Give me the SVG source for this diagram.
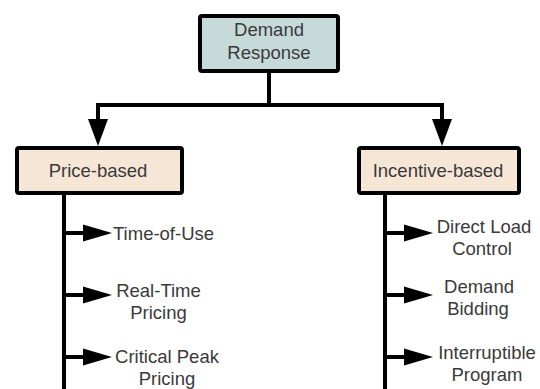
<svg xmlns="http://www.w3.org/2000/svg" width="540" height="389" viewBox="0 0 540 389">
<style>
.box{stroke:#000;stroke-width:4}
.top{fill:#c7dada}
.cat{fill:#f6e6d6}
.t{font-family:"Liberation Sans",Arial,sans-serif;font-size:18.5px;fill:#3a3a3a}
.c{text-anchor:middle}
.ln{stroke:#000;stroke-width:4;fill:none}
.hd{fill:#000}
</style>
<defs>
<polygon id="down" points="-10,-27 10,-27 0,0"/>
<polygon id="right" points="-29,-8.5 -29,8.5 0,0"/>
</defs>
<rect width="540" height="389" fill="#fff"/>
<g id="connectors">
<path class="ln" d="M269,71 V105 M98,105 H442 M98,103 V125 M442,103 V125"/>
<use href="#down" x="98" y="146" class="hd"/>
<use href="#down" x="442" y="146" class="hd"/>
<path class="ln" d="M64,193 V389 M385,193 V389"/>
<path class="ln" d="M64,233 H88 M64,295 H88 M64,357 H88 M385,233 H409 M385,295 H409 M385,357 H409"/>
<use href="#right" x="112" y="233" class="hd"/>
<use href="#right" x="112" y="295" class="hd"/>
<use href="#right" x="112" y="357" class="hd"/>
<use href="#right" x="433" y="233" class="hd"/>
<use href="#right" x="433" y="295" class="hd"/>
<use href="#right" x="433" y="357" class="hd"/>
</g>
<g id="demand-response">
<rect class="box top" x="200" y="16" width="138" height="55" rx="2"/>
<text class="t c" x="269" y="36">Demand</text>
<text class="t c" x="269" y="59">Response</text>
</g>
<g id="price-based">
<rect class="box cat" x="17" y="148" width="165" height="45" rx="2"/>
<text class="t c" x="98" y="177">Price-based</text>
</g>
<g id="incentive-based">
<rect class="box cat" x="359" y="148" width="160" height="45" rx="2"/>
<text class="t c" x="438" y="177">Incentive-based</text>
</g>
<g id="time-of-use">
<text class="t" x="113" y="239.5">Time-of-Use</text>
</g>
<g id="real-time-pricing">
<text class="t c" x="158.5" y="296.5">Real-Time</text>
<text class="t c" x="158.5" y="318.5">Pricing</text>
</g>
<g id="critical-peak-pricing">
<text class="t c" x="167" y="363">Critical Peak</text>
<text class="t c" x="167" y="385">Pricing</text>
</g>
<g id="direct-load-control">
<text class="t c" x="484" y="233">Direct Load</text>
<text class="t c" x="482" y="255">Control</text>
</g>
<g id="demand-bidding">
<text class="t c" x="479" y="293">Demand</text>
<text class="t c" x="478" y="315">Bidding</text>
</g>
<g id="interruptible-program">
<text class="t c" x="487" y="359">Interruptible</text>
<text class="t c" x="487" y="381">Program</text>
</g>
</svg>
